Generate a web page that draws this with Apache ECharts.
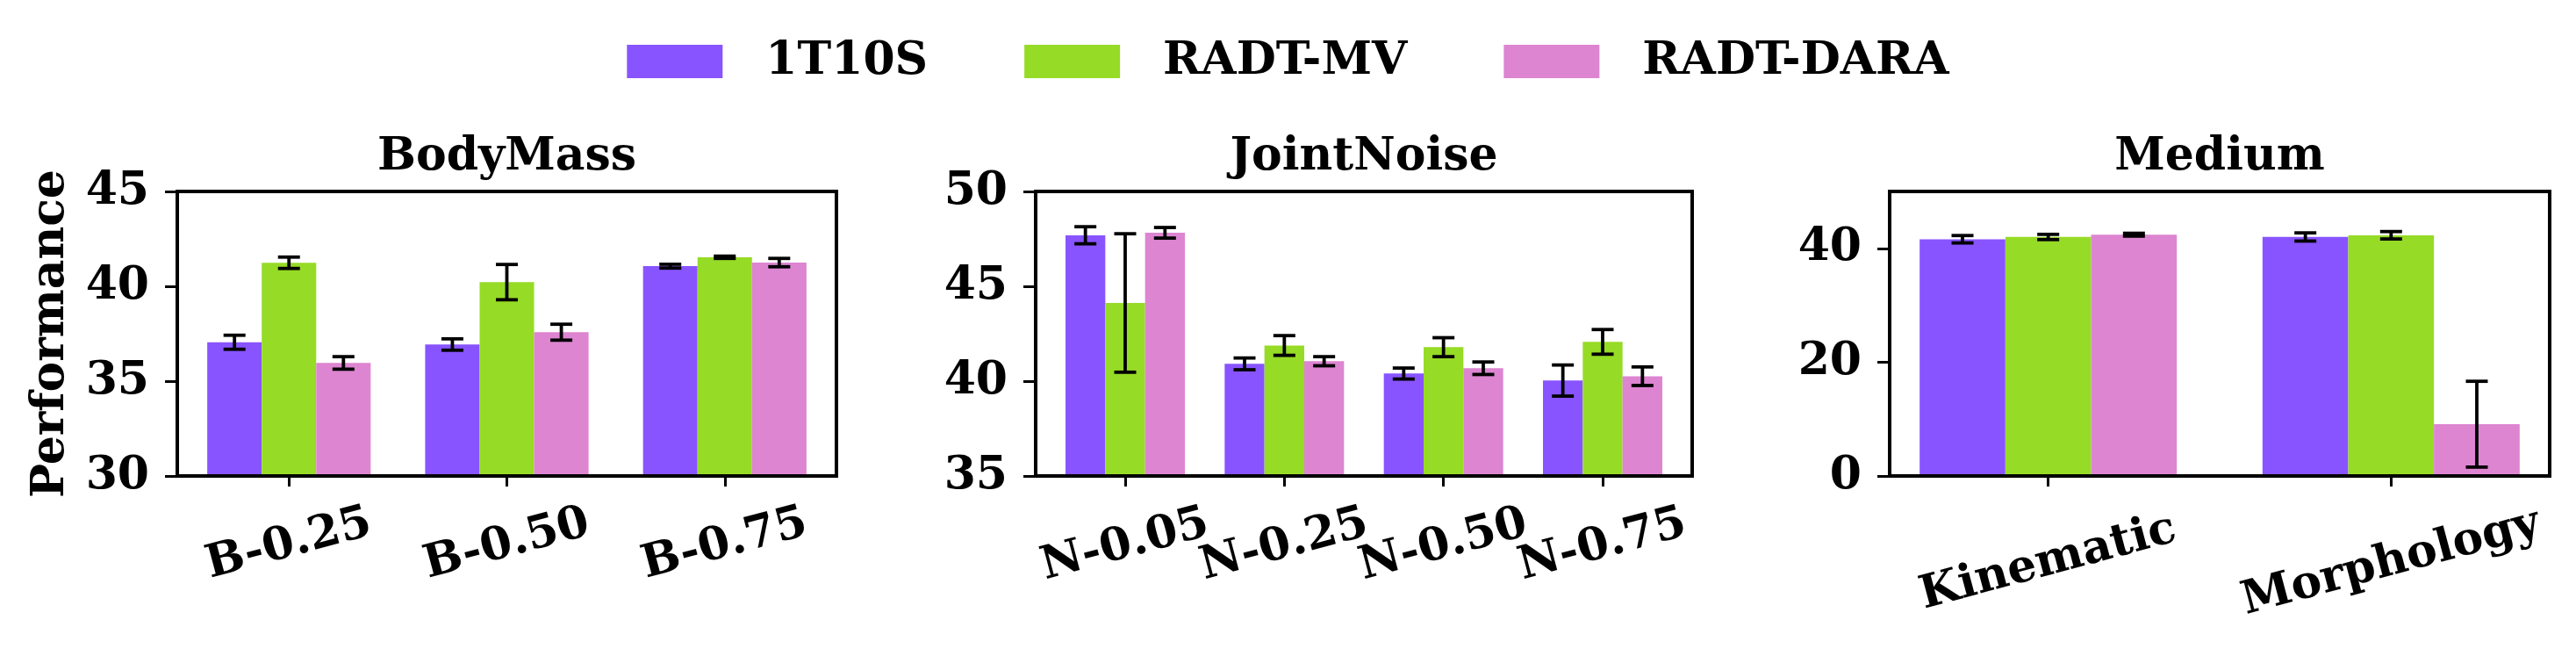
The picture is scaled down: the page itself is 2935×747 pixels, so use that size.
<!DOCTYPE html>
<html>
<head>
    <meta charset="utf-8">
    <title>Performance</title>
    <script type="text/javascript" src="https://cdn.jsdelivr.net/npm/echarts@6/dist/echarts.min.js"></script>
    <style>
        html, body { margin: 0; padding: 0; background: #fff; }
    </style>
</head>
<body>
    <div id="main" style="width: 2935px;height:747px;"></div>

    <script type="text/javascript">
        // series names and colours
        var seriesNames = ['1T10S', 'RADT-MV', 'RADT-DARA'];
        var seriesColors = ['#8854FF', '#96DB26', '#DD85D1'];

        // BodyMass panel
        var bodyCats = ['B-0.25', 'B-0.50', 'B-0.75'];
        var body1T10S = [37.05, 36.93, 41.06];
        var body1T10SErr = [0.37, 0.30, 0.10];
        var bodyMV = [41.24, 40.22, 41.53];
        var bodyMVErr = [0.30, 0.93, 0.06];
        var bodyDARA = [35.96, 37.58, 41.25];
        var bodyDARAErr = [0.33, 0.42, 0.22];
        var bodyTicks = [30, 35, 40, 45];

        // JointNoise panel
        var jointCats = ['N-0.05', 'N-0.25', 'N-0.50', 'N-0.75'];
        var joint1T10S = [47.69, 40.91, 40.40, 40.03];
        var joint1T10SErr = [0.45, 0.31, 0.29, 0.82];
        var jointMV = [44.12, 41.88, 41.79, 42.07];
        var jointMVErr = [3.65, 0.52, 0.50, 0.65];
        var jointDARA = [47.82, 41.05, 40.68, 40.26];
        var jointDARAErr = [0.28, 0.24, 0.33, 0.49];
        var jointTicks = [35, 40, 45, 50];

        // Medium panel
        var mediumCats = ['Kinematic', 'Morphology'];
        var medium1T10S = [41.6, 42.0];
        var medium1T10SErr = [0.65, 0.72];
        var mediumMV = [42.0, 42.3];
        var mediumMVErr = [0.46, 0.65];
        var mediumDARA = [42.4, 9.1];
        var mediumDARAErr = [0.25, 7.54];
        var mediumTicks = [0, 20, 40];

        // DejaVu Serif is not really there, DejaVu Sans has the same widths
        var FONT = '"DejaVu Serif", "DejaVu Sans", sans-serif';
        var FS = 52;

        var panels = [
            { title: 'BodyMass', cats: bodyCats, vals: [body1T10S, bodyMV, bodyDARA],
              errs: [body1T10SErr, bodyMVErr, bodyDARAErr], ticks: bodyTicks, ymin: 30, ymax: 45,
              left: 202, width: 751, labelMargin: 78, yName: 'Performance' },
            { title: 'JointNoise', cats: jointCats, vals: [joint1T10S, jointMV, jointDARA],
              errs: [joint1T10SErr, jointMVErr, jointDARAErr], ticks: jointTicks, ymin: 35, ymax: 50,
              left: 1180, width: 748, labelMargin: 79, yName: '' },
            { title: 'Medium', cats: mediumCats, vals: [medium1T10S, mediumMV, mediumDARA],
              errs: [medium1T10SErr, mediumMVErr, mediumDARAErr], ticks: mediumTicks, ymin: 0, ymax: 50,
              left: 2153, width: 752, labelMargin: 99, yName: '' }
        ];
        var TOP = 218, HEIGHT = 324;
        var BAR = 0.25;

        function renderErr(params, api) {
            var x = api.value(0);
            var top = api.coord([x, api.value(2)]);
            var bot = api.coord([x, api.value(1)]);
            var cw = 12.5;
            var st = { stroke: '#000', lineWidth: 3.8 };
            return {
                type: 'group',
                children: [
                    { type: 'line', shape: { x1: top[0], y1: top[1], x2: bot[0], y2: bot[1] }, style: st },
                    { type: 'line', shape: { x1: top[0] - cw, y1: top[1], x2: top[0] + cw, y2: top[1] }, style: st },
                    { type: 'line', shape: { x1: bot[0] - cw, y1: bot[1], x2: bot[0] + cw, y2: bot[1] }, style: st }
                ]
            };
        }

        var grids = [], xAxes = [], yAxes = [], titles = [], series = [];

        panels.forEach(function (p, gi) {
            var n = p.cats.length;
            var span = (n - 1) + 3 * BAR;
            var xmin = -1.5 * BAR - 0.05 * span;
            var xmax = (n - 1) + 1.5 * BAR + 0.05 * span;
            var barPx = BAR * p.width / (xmax - xmin);
            var idx = [], evenIdx = [], oddIdx = [];
            for (var i = 0; i < n; i++) {
                idx.push(i);
                (i % 2 ? oddIdx : evenIdx).push(i);
            }
            var labelStyle = {
                rotate: 15, align: 'center', verticalAlign: 'middle',
                showMinLabel: true, showMaxLabel: true, hideOverlap: false,
                margin: p.labelMargin, fontFamily: FONT, fontWeight: 'bold', fontSize: FS, color: '#000',
                formatter: function (v) { return p.cats[Math.round(v)]; }
            };

            grids.push({ left: p.left, top: TOP, width: p.width, height: HEIGHT,
                show: true, borderColor: '#000', borderWidth: 4, backgroundColor: 'transparent' });
            titles.push({ text: p.title, left: p.left + p.width / 2, textAlign: 'center', top: 153, padding: 0,
                textStyle: { fontFamily: FONT, fontWeight: 'bold', fontSize: FS, color: '#000' } });
            // main x axis: line, ticks and labels of even categories
            var xIndex = xAxes.length;
            xAxes.push({
                gridIndex: gi, type: 'value', min: xmin, max: xmax, z: 3, position: 'bottom', offset: 0,
                splitLine: { show: false },
                axisLine: { show: true, onZero: false, lineStyle: { color: '#000', width: 4 } },
                axisTick: { show: true, customValues: idx, length: 12, lineStyle: { color: '#000', width: 3 } },
                axisLabel: Object.assign({ customValues: evenIdx }, labelStyle)
            });
            // twin axis carrying the odd labels, so crowded labels are not dropped
            if (oddIdx.length) {
                xAxes.push({
                    gridIndex: gi, type: 'value', min: xmin, max: xmax, z: 3, position: 'bottom', offset: 0,
                    splitLine: { show: false },
                    axisLine: { show: false, onZero: false },
                    axisTick: { show: false },
                    axisLabel: Object.assign({ customValues: oddIdx }, labelStyle)
                });
            }
            yAxes.push({
                gridIndex: gi, type: 'value', min: p.ymin, max: p.ymax, z: 3,
                name: p.yName, nameLocation: 'middle', nameGap: 118,
                nameTextStyle: { fontFamily: FONT, fontWeight: 'bold', fontSize: FS, color: '#000' },
                splitLine: { show: false },
                axisLine: { show: true, onZero: false, lineStyle: { color: '#000', width: 4 } },
                axisTick: { show: true, customValues: p.ticks, length: 14, lineStyle: { color: '#000', width: 3 } },
                axisLabel: { customValues: p.ticks, margin: 32, showMinLabel: true, showMaxLabel: true,
                    fontFamily: FONT, fontWeight: 'bold', fontSize: FS, color: '#000' }
            });

            var errData = [];
            seriesNames.forEach(function (name, k) {
                var off = (k - 1) * BAR;
                series.push({
                    name: name, type: 'bar', xAxisIndex: xIndex, yAxisIndex: gi,
                    barWidth: barPx, barGap: '-100%',
                    itemStyle: { color: seriesColors[k] },
                    data: p.vals[k].map(function (v, i) { return [i + off, v]; })
                });
                p.vals[k].forEach(function (v, i) {
                    errData.push([i + off, v - p.errs[k][i], v + p.errs[k][i]]);
                });
            });
            series.push({
                name: 'err' + gi, type: 'custom', xAxisIndex: xIndex, yAxisIndex: gi, z: 4,
                renderItem: renderErr, encode: { x: 0, y: [1, 2] }, data: errData
            });
        });

        var myChart = echarts.init(document.getElementById('main'));
        myChart.setOption({
            animation: false,
            backgroundColor: '#fff',
            title: titles,
            legend: {
                data: seriesNames, left: 'center', top: 44, padding: 0,
                itemWidth: 109, itemHeight: 38, itemGap: 110, icon: 'rect',
                textStyle: { fontFamily: FONT, fontWeight: 'bold', fontSize: FS, color: '#000',
                    lineHeight: 52, padding: [0, 0, 0, 44] }
            },
            tooltip: {},
            grid: grids,
            xAxis: xAxes,
            yAxis: yAxes,
            series: series
        });
    </script>
</body>
</html>
